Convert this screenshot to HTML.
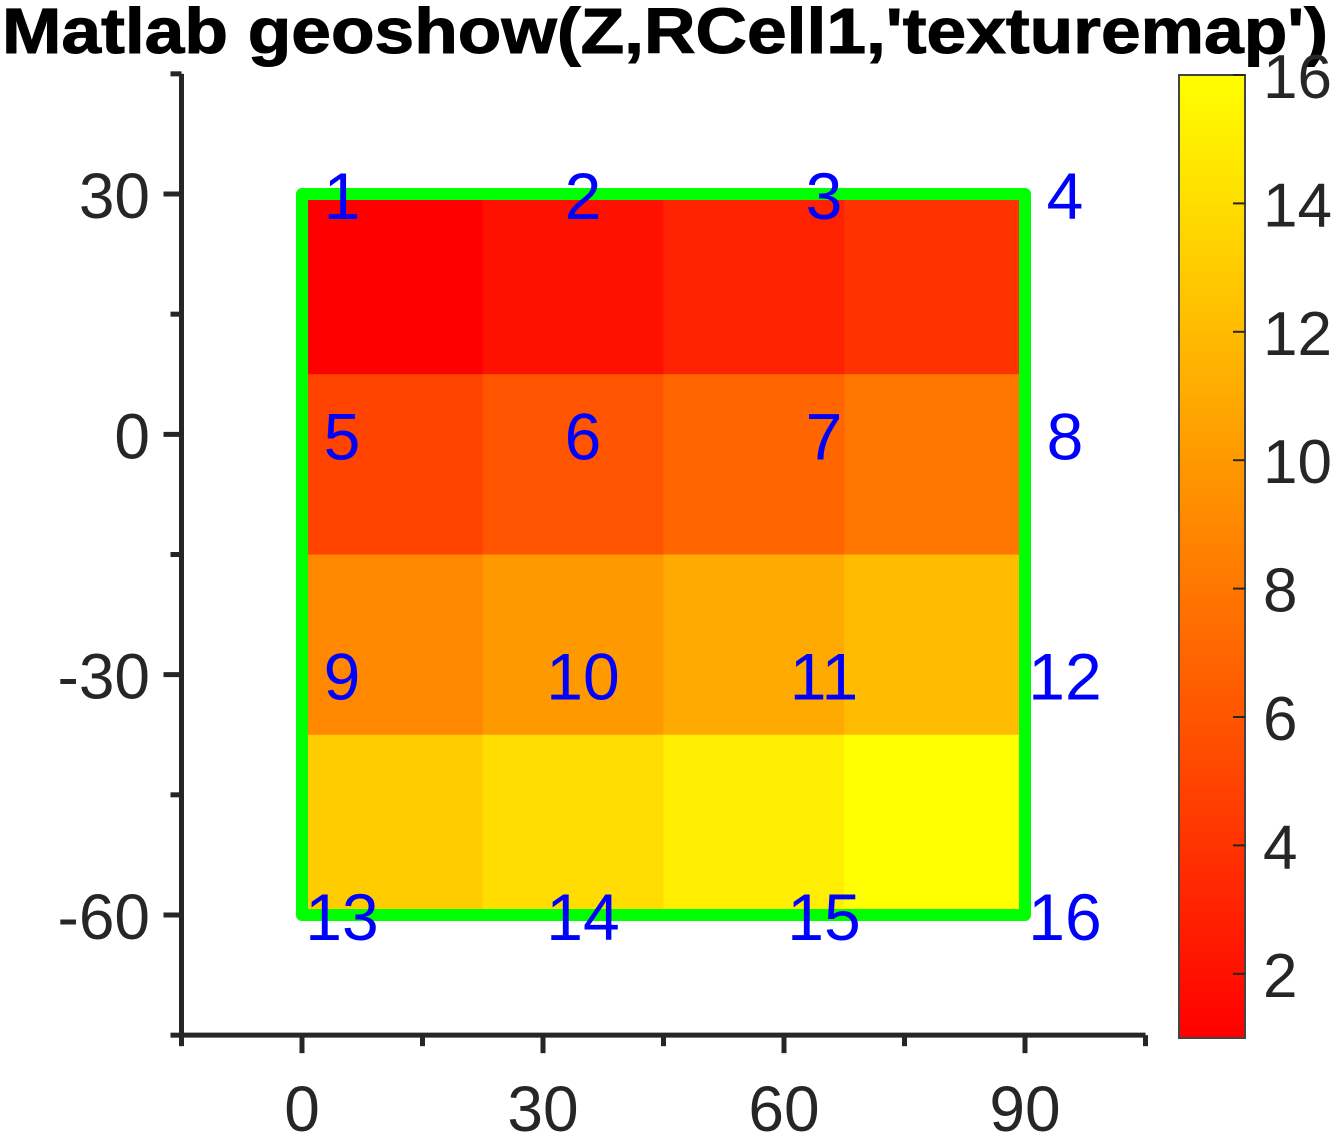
<!DOCTYPE html>
<html><head><meta charset="utf-8"><style>
body{margin:0;background:#fff;}
svg{display:block;font-family:"Liberation Sans",Arial,sans-serif;}
</style></head><body>
<svg id="chart" width="1331" height="1134" viewBox="0 0 1331 1134" xmlns="http://www.w3.org/2000/svg">
<text x="2" y="53" font-size="64" font-weight="bold" fill="#000" stroke="#000" stroke-width="1" textLength="1326" lengthAdjust="spacingAndGlyphs">Matlab geoshow(Z,RCell1,'texturemap')</text>
<g id="cells"></g>
<g id="frame"></g>
<g id="labels"></g>
<g id="axes"></g>
<g id="cbar"></g>
</svg>
<script>
const values = [[1,2,3,4],[5,6,7,8],[9,10,11,12],[13,14,15,16]];
const cellLon = [0,22.5,45,67.5,90];
const cellLat = [30,7.5,-15,-37.5,-60];
const labelLon = [0,30,60,90];
const labelLat = [30,0,-30,-60];
const labelText = [["1","2","3","4"],["5","6","7","8"],["9","10","11","12"],["13","14","15","16"]];
const xTicks = [-15,0,15,30,45,60,75,90,105];
const xTickLabels = ["","0","","30","","60","","90",""];
const yTicks = [45,30,15,0,-15,-30,-45,-60,-75];
const yTickLabels = ["","30","","0","","-30","","-60",""];
const cTicks = [2,4,6,8,10,12,14,16];
const cMin = 1, cMax = 16;

const NS = "http://www.w3.org/2000/svg";
const X = v => 302 + (v - 0) * (1025 - 302) / 90;
const Y = v => 194 + (30 - v) * (915 - 194) / 90;
const CY = v => 1038 - (v - cMin) / (cMax - cMin) * (1038 - 75);
const col = v => { const g = Math.round(255 * (v - cMin) / (cMax - cMin)); return `rgb(255,${g},0)`; };
function mk(tag, attrs, parent, txt) {
  const e = document.createElementNS(NS, tag);
  for (const k in attrs) e.setAttribute(k, attrs[k]);
  if (txt !== undefined) e.textContent = txt;
  parent.appendChild(e); return e;
}
const cells = document.getElementById('cells');
values.forEach((row, r) => row.forEach((v, c) => {
  const e = mk('rect', {x: X(cellLon[c]), y: Y(cellLat[r]), width: X(cellLon[c+1]) - X(cellLon[c]) + 0.5, height: Y(cellLat[r+1]) - Y(cellLat[r]) + 0.5, fill: col(v)}, cells);
  
  
}));
const frame = document.getElementById('frame');
const fr = mk('rect', {x: X(0), y: Y(30), width: X(90) - X(0), height: Y(-60) - Y(30), fill: 'none', stroke: '#00ff00', 'stroke-width': 12, 'stroke-linejoin': 'round'}, frame);


const labels = document.getElementById('labels');
labelText.forEach((row, r) => row.forEach((t, c) => {
  const e = mk('text', {x: X(labelLon[c]) + 40, y: Y(labelLat[r]) + 25, 'font-size': 66, fill: '#0000ff', 'text-anchor': 'middle'}, labels, t);
  
  
}));
const axes = document.getElementById('axes');
const ax = '#262626';
const xl = mk('path', {d: `M${X(-15)},${Y(-75)} H${X(105)} M${X(-15)},${Y(45)} V${Y(-75)}`, stroke: ax, 'stroke-width': 5, fill: 'none'}, axes);


xTicks.forEach((v, i) => {
  const major = xTickLabels[i] !== '';
  const e = mk('line', {x1: X(v), x2: X(v), y1: Y(-75), y2: Y(-75) + (major ? 18 : 11), stroke: ax, 'stroke-width': 5}, axes);
  
  
  if (major) {
    const t = mk('text', {x: X(v), y: 1131, 'font-size': 64, fill: ax, 'text-anchor': 'middle'}, axes, xTickLabels[i]);
    
    
  }
});
yTicks.forEach((v, i) => {
  const major = yTickLabels[i] !== '';
  const e = mk('line', {x1: X(-15), x2: X(-15) - (major ? 18 : 11), y1: Y(v), y2: Y(v), stroke: ax, 'stroke-width': 5}, axes);
  
  
  if (major) {
    const t = mk('text', {x: 150, y: Y(v) + 24, 'font-size': 64, fill: ax, 'text-anchor': 'end'}, axes, yTickLabels[i]);
    
    
  }
});
const cbar = document.getElementById('cbar');
const defs = mk('defs', {}, cbar);
const lg = mk('linearGradient', {id: 'cg', x1: 0, y1: 1, x2: 0, y2: 0}, defs);
mk('stop', {offset: 0, 'stop-color': col(cMin)}, lg);
mk('stop', {offset: 1, 'stop-color': col(cMax)}, lg);
const cb = mk('rect', {x: 1179, y: CY(cMax), width: 66, height: CY(cMin) - CY(cMax), fill: 'url(#cg)', stroke: '#444', 'stroke-width': 2}, cbar);


cTicks.forEach(v => {
  const e = mk('line', {x1: 1245, x2: 1233, y1: CY(v), y2: CY(v), stroke: ax, 'stroke-width': 2}, cbar);
  
  
  const t = mk('text', {x: 1263, y: CY(v) + 23, 'font-size': 62, fill: ax}, cbar, String(v));
  
  
});
</script>
</body></html>
